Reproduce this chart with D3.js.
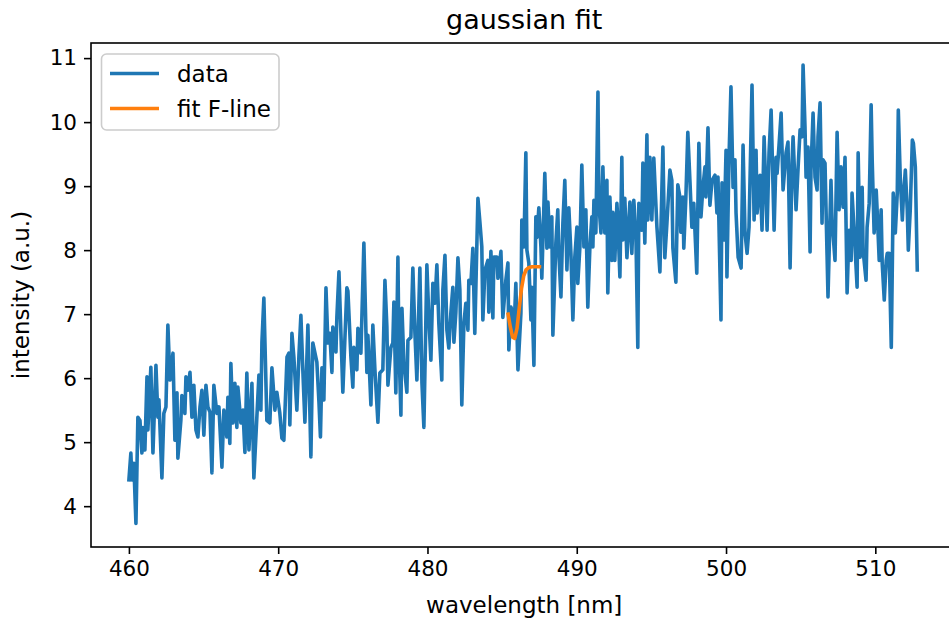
<!DOCTYPE html>
<html>
<head>
<meta charset="utf-8">
<script src="https://cdn.jsdelivr.net/npm/d3@7"></script>
<style>
  html, body { margin: 0; padding: 0; background: #fff; overflow: hidden; }
  svg { display: block; font-family: "DejaVu Sans", sans-serif; }
</style>
</head>
<body>
<svg id="chart" width="949" height="626"></svg>
<script>
const wavelength = [
460.00,460.13,460.20,460.33,460.47,460.60,460.74,460.87,460.94,461.07,461.21,461.27,461.47,461.61,461.81,461.94,462.01,462.21,462.34,462.48,
462.61,462.75,462.95,463.08,463.22,463.28,463.48,463.55,463.75,463.82,463.95,464.09,464.22,464.35,464.49,464.62,464.76,464.89,465.02,465.16,
465.29,465.43,465.56,465.69,465.89,466.03,466.23,466.36,466.56,466.63,466.76,466.83,466.97,467.10,467.23,467.30,467.50,467.64,467.77,467.90,
468.04,468.24,468.37,468.57,468.71,468.84,468.91,469.04,469.24,469.44,469.58,469.78,469.91,470.11,470.25,470.38,470.59,470.72,470.78,470.92,
471.05,471.25,471.39,471.52,471.65,471.79,471.99,472.19,472.32,472.59,472.73,472.83,472.93,473.06,473.20,473.33,473.46,473.60,473.66,473.87,
473.93,474.07,474.33,474.60,474.67,474.87,475.00,475.07,475.27,475.34,475.54,475.74,475.94,476.01,476.21,476.34,476.48,476.68,476.81,477.01,
477.15,477.28,477.35,477.55,477.68,477.75,477.88,478.02,478.08,478.22,478.29,478.42,478.62,478.69,478.89,479.02,479.16,479.29,479.49,479.63,
479.76,479.96,480.09,480.23,480.36,480.50,480.63,480.76,480.96,481.03,481.17,481.30,481.43,481.57,481.70,481.77,481.90,482.04,482.17,482.30,
482.44,482.57,482.71,482.77,482.91,483.04,483.17,483.38,483.51,483.64,483.71,483.85,484.05,484.11,484.25,484.38,484.45,484.65,484.72,484.92,
485.05,485.25,485.39,485.45,485.59,485.72,485.79,485.92,486.06,486.26,486.32,486.46,486.59,486.66,486.79,486.93,486.99,487.13,487.26,487.33,
487.46,487.60,487.66,487.86,488.00,488.07,488.20,488.33,488.40,488.60,488.73,488.80,488.94,489.07,489.20,489.34,489.47,489.61,489.74,489.87,
490.01,490.07,490.21,490.34,490.48,490.61,490.74,490.88,491.01,491.08,491.15,491.28,491.42,491.48,491.62,491.75,491.88,492.02,492.08,492.22,
492.35,492.42,492.55,492.69,492.75,492.89,493.02,493.09,493.22,493.36,493.56,493.69,493.82,493.96,494.09,494.16,494.36,494.43,494.56,494.70,
494.76,494.90,495.03,495.16,495.37,495.57,495.77,495.90,496.04,496.24,496.37,496.44,496.64,496.77,496.91,496.97,497.11,497.17,497.31,497.44,
497.58,497.71,497.84,498.04,498.18,498.32,498.45,498.59,498.65,498.79,498.92,499.06,499.26,499.39,499.46,499.66,499.73,499.86,500.00,500.06,
500.20,500.33,500.47,500.60,500.67,500.81,501.01,501.14,501.27,501.41,501.54,501.74,501.88,502.01,502.08,502.28,502.41,502.55,502.75,502.88,
503.02,503.22,503.35,503.42,503.55,503.69,503.82,504.02,504.15,504.29,504.42,504.49,504.69,504.83,504.96,505.09,505.16,505.29,505.36,505.49,
505.63,505.69,505.83,505.96,506.10,506.16,506.30,506.43,506.50,506.63,506.83,507.03,507.10,507.30,507.44,507.57,507.70,507.84,507.97,508.11,
508.24,508.38,508.44,508.64,508.78,508.85,508.98,509.12,509.18,509.38,509.45,509.59,509.72,509.79,509.92,510.06,510.12,510.26,510.39,510.46,
510.60,510.73,510.80,510.93,511.07,511.20,511.34,511.47,511.54,511.67,511.81,511.87,512.01,512.14,512.21,512.34,512.48,512.55,512.68,512.81
];
const intensity = [
4.41,4.83,4.41,4.67,3.73,5.39,5.34,4.83,5.23,4.88,6.02,5.19,6.17,4.83,6.20,5.39,5.66,4.44,5.45,5.55,
6.83,5.97,6.39,5.03,5.77,4.75,5.34,5.73,5.45,6.02,5.81,6.09,5.39,5.89,5.19,5.08,5.55,5.81,5.11,5.89,
5.55,5.47,4.52,5.89,5.45,5.55,4.61,5.50,5.08,5.70,4.98,6.23,5.30,5.92,5.23,5.86,5.30,5.50,4.84,6.08,
4.88,5.92,4.44,5.39,6.05,5.50,6.56,7.25,5.34,5.30,6.16,5.50,5.78,5.45,5.06,5.03,6.33,6.39,5.27,6.70,
6.33,5.50,6.36,6.98,6.13,5.31,6.83,4.77,6.55,6.25,5.63,5.08,6.16,5.66,7.41,6.55,6.70,6.09,6.80,6.41,
6.95,7.66,5.78,7.41,7.36,6.33,5.86,6.48,6.13,6.78,6.39,8.11,6.09,6.67,5.58,6.83,6.13,5.31,6.08,6.13,
7.53,6.80,5.89,6.48,6.55,7.19,5.77,7.89,6.59,5.42,7.09,6.23,5.78,6.59,6.64,7.72,6.70,5.97,7.72,5.92,
5.23,7.77,6.95,6.28,7.48,7.17,7.77,6.86,5.97,7.38,7.92,6.75,6.47,7.03,7.42,6.56,7.02,7.88,7.38,5.58,
6.86,7.17,6.75,7.53,7.48,8.03,6.70,8.81,8.44,8.05,6.91,7.69,7.84,7.03,7.98,6.94,7.89,7.89,7.56,7.98,
6.95,7.53,7.80,6.44,7.11,7.02,6.70,7.48,6.13,7.02,8.47,8.05,9.52,8.00,7.80,6.91,7.42,6.20,8.52,8.20,
8.66,8.05,7.56,9.20,8.03,8.75,8.05,8.52,6.67,8.11,8.63,7.95,7.27,8.42,9.09,7.69,8.66,7.95,6.91,7.89,
8.36,7.48,8.05,9.33,8.05,8.63,7.11,8.05,8.52,8.05,8.78,8.27,10.47,8.73,8.27,9.30,8.27,9.09,7.33,8.83,
7.84,8.59,7.84,8.73,8.47,7.58,9.45,8.16,8.81,7.88,8.75,7.95,8.78,8.27,6.48,8.73,8.31,9.36,8.11,9.80,
8.47,9.45,8.47,9.44,8.36,7.66,9.61,7.88,8.42,9.25,9.09,8.03,7.50,9.02,8.83,8.28,8.83,8.03,8.83,9.84,
9.09,8.36,8.73,7.64,9.67,8.52,8.98,9.30,8.83,9.91,8.70,9.09,9.17,8.58,9.14,6.91,9.05,8.16,9.56,7.58,
9.45,10.55,8.98,9.41,8.58,7.89,7.72,9.64,8.27,7.95,8.36,10.58,8.47,9.56,8.58,9.17,8.31,9.77,8.31,9.52,
10.19,8.31,9.45,9.20,9.64,10.14,8.94,9.52,9.69,7.72,9.36,9.77,8.63,9.30,9.88,9.77,10.89,9.92,9.14,9.61,
7.97,9.25,10.14,9.14,8.94,9.77,10.30,8.42,9.41,9.36,7.27,9.09,8.47,7.84,9.84,8.63,9.30,8.67,9.45,7.33,
8.31,7.84,8.89,8.05,7.42,9.52,7.89,8.98,8.00,7.53,8.36,8.73,10.27,9.41,8.27,8.94,8.63,7.84,8.63,7.80,
7.22,7.84,7.95,7.95,6.48,8.89,8.27,8.89,10.19,9.14,8.47,8.78,9.25,8.63,8.00,8.63,9.72,9.67,9.30,7.69
];
const fitWavelength = [485.40,485.55,485.70,485.85,486.00,486.15,486.30,486.45,486.60,486.80,487.00,487.25,487.50];
const fitIntensity   = [7.00,6.80,6.64,6.62,6.78,7.10,7.40,7.60,7.69,7.73,7.74,7.74,7.74];
const xTicks = [460, 470, 480, 490, 500, 510];
const yTicks = [4, 5, 6, 7, 8, 9, 10, 11];
const seriesNames = ["data", "fit F-line"];
const seriesColors = ["#1f77b4", "#ff7f0e"];

const svg = d3.select("#chart");
const mLeft = 91, mTop = 43, mBottom = 547;
const x = d3.scaleLinear().domain([457.46, 515.5]).range([mLeft, mLeft + 58.04 * 14.928]);
const y = d3.scaleLinear().domain([3.362, 11.236]).range([mBottom, mTop]);
const mRight = x.range()[1];

const data = wavelength.map((w, i) => ({x: w, y: intensity[i]}));
const fit = fitWavelength.map((w, i) => ({x: w, y: fitIntensity[i]}));

const line = d3.line().x(d => x(d.x)).y(d => y(d.y));

svg.append("clipPath").attr("id", "clip")
  .append("rect").attr("x", mLeft).attr("y", mTop).attr("width", mRight - mLeft).attr("height", mBottom - mTop);

const plot = svg.append("g").attr("clip-path", "url(#clip)");
plot.append("path").datum(data).attr("d", line)
  .attr("fill", "none").attr("stroke", seriesColors[0]).attr("stroke-width", 3.6)
  .attr("stroke-linejoin", "round").attr("stroke-linecap", "square");
plot.append("path").datum(fit).attr("d", line)
  .attr("fill", "none").attr("stroke", seriesColors[1]).attr("stroke-width", 3.6)
  .attr("stroke-linejoin", "round").attr("stroke-linecap", "square");

// axes
const xAxis = d3.axisBottom(x).tickValues(xTicks).tickSize(7).tickPadding(7).tickFormat(d3.format("d"));
const gx = svg.append("g").attr("transform", `translate(0,${mBottom})`).call(xAxis);
const yAxis = d3.axisLeft(y).tickValues(yTicks).tickSize(7).tickPadding(7).tickFormat(d3.format("d"));
const gy = svg.append("g").attr("transform", `translate(${mLeft},0)`).call(yAxis);
[gx, gy].forEach(g => {
  g.select(".domain").remove();
  g.selectAll(".tick line").attr("stroke", "#000").attr("stroke-width", 1.6);
  g.selectAll(".tick text").attr("fill", "#000").style("font-size", "21.5px").style("font-family", "DejaVu Sans");
});

// spines
svg.append("rect").attr("x", mLeft).attr("y", mTop).attr("width", mRight - mLeft).attr("height", mBottom - mTop)
  .attr("fill", "none").attr("stroke", "#000").attr("stroke-width", 1.6);

// labels
svg.append("text").attr("x", (mLeft + mRight) / 2).attr("y", 29).attr("text-anchor", "middle")
  .style("font-size", "27px").text("gaussian fit");
svg.append("text").attr("x", (mLeft + mRight) / 2).attr("y", 613).attr("text-anchor", "middle")
  .style("font-size", "23px").text("wavelength [nm]");
svg.append("text").attr("transform", `translate(29,${(mTop + mBottom) / 2}) rotate(-90)`).attr("text-anchor", "middle")
  .style("font-size", "23px").text("intensity (a.u.)");

// legend
const lg = svg.append("g");
lg.append("rect").attr("x", 101.5).attr("y", 54).attr("width", 177.5).attr("height", 76).attr("rx", 5)
  .attr("fill", "#fff").attr("fill-opacity", 0.8).attr("stroke", "#cccccc").attr("stroke-width", 1.6);
seriesNames.forEach((name, i) => {
  const yy = 73.5 + i * 35;
  lg.append("line").attr("x1", 110).attr("x2", 159).attr("y1", yy).attr("y2", yy)
    .attr("stroke", seriesColors[i]).attr("stroke-width", 3.6);
  lg.append("text").attr("x", 177).attr("y", yy + 8).style("font-size", "23px").text(name);
});
</script>
</body>
</html>
